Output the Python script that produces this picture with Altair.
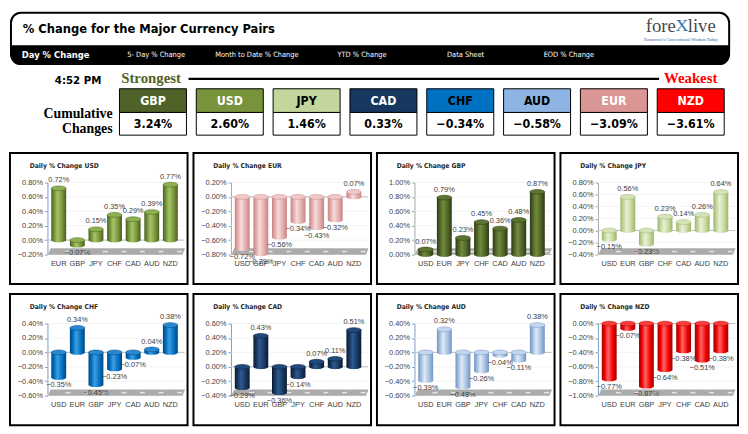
import altair as alt
import pandas as pd

# ------------------------------------------------------------------ data
TITLE = "% Change for the Major Currency Pairs"
TIME_LABEL = "4:52 PM"
menu_items = ["Day % Change", "5- Day % Change", "Month to Date % Change",
              "YTD % Change", "Data Sheet", "EOD % Change"]

strength_codes = ["GBP", "USD", "JPY", "CAD", "CHF", "AUD", "EUR", "NZD"]
strength_values = [3.24, 2.60, 1.46, 0.33, -0.34, -0.58, -3.09, -3.61]

panel_bases = ["USD", "EUR", "GBP", "JPY", "CHF", "CAD", "AUD", "NZD"]

usd_vs = ["EUR", "GBP", "JPY", "CHF", "CAD", "AUD", "NZD"]
usd_chg = [0.72, -0.07, 0.15, 0.35, 0.29, 0.39, 0.77]
eur_vs = ["USD", "GBP", "JPY", "CHF", "CAD", "AUD", "NZD"]
eur_chg = [-0.72, -0.79, -0.56, -0.34, -0.43, -0.32, 0.07]
gbp_vs = ["USD", "EUR", "JPY", "CHF", "CAD", "AUD", "NZD"]
gbp_chg = [0.07, 0.79, 0.23, 0.45, 0.36, 0.48, 0.87]
jpy_vs = ["USD", "EUR", "GBP", "CHF", "CAD", "AUD", "NZD"]
jpy_chg = [-0.15, 0.56, -0.23, 0.23, 0.14, 0.26, 0.64]
chf_vs = ["USD", "EUR", "GBP", "JPY", "CAD", "AUD", "NZD"]
chf_chg = [-0.35, 0.34, -0.45, -0.23, -0.07, 0.04, 0.38]
cad_vs = ["USD", "EUR", "GBP", "JPY", "CHF", "AUD", "NZD"]
cad_chg = [-0.29, 0.43, -0.36, -0.14, 0.07, 0.11, 0.51]
aud_vs = ["USD", "EUR", "GBP", "JPY", "CHF", "CAD", "NZD"]
aud_chg = [-0.39, 0.32, -0.48, -0.26, -0.04, -0.11, 0.38]
nzd_vs = ["USD", "EUR", "GBP", "JPY", "CHF", "CAD", "AUD"]
nzd_chg = [-0.77, -0.07, -0.87, -0.64, -0.38, -0.51, -0.38]

# axis tick range of each panel (from its tick labels)
axis_lo = [-0.20, -0.80, 0.00, -0.40, -0.60, -0.40, -0.60, -1.00]
axis_hi = [0.80, 0.20, 1.00, 0.80, 0.40, 0.60, 0.40, 0.00]
TICK_STEP = 0.20

panel_vs = [usd_vs, eur_vs, gbp_vs, jpy_vs, chf_vs, cad_vs, aud_vs, nzd_vs]
panel_chg = [usd_chg, eur_chg, gbp_chg, jpy_chg, chf_chg, cad_chg, aud_chg, nzd_chg]

# ------------------------------------------------------------------ style
NARROW = "'DejaVu Sans Condensed', sans-serif"
SANS = "'Liberation Sans', Arial, sans-serif"
SERIF = "'Liberation Serif', 'Times New Roman', serif"

hdr_colors = {"GBP": "#4F6228", "USD": "#77933C", "JPY": "#C3D69B", "CAD": "#17375E",
              "CHF": "#0070C0", "AUD": "#8DB4E2", "EUR": "#DA9694", "NZD": "#FF0000"}
hdr_text = {"GBP": "white", "USD": "white", "JPY": "black", "CAD": "white",
            "CHF": "black", "AUD": "black", "EUR": "white", "NZD": "white"}

# dark, mid, light, cap
palettes = {
    "USD": ("#4A5E22", "#76933C", "#A6C466", "#8FB04F"),
    "EUR": ("#C48584", "#E2ABAA", "#F6DCDB", "#EFC9C8"),
    "GBP": ("#2C3A12", "#4F6228", "#728C3C", "#5C7432"),
    "JPY": ("#9DB36A", "#C4D79B", "#E9F0D8", "#D5E3B8"),
    "CHF": ("#00467E", "#0070C0", "#3F9DE2", "#2A88D0"),
    "CAD": ("#0A1A30", "#17375E", "#2E5A8E", "#214A7A"),
    "AUD": ("#6F94C4", "#A3BEDF", "#E0EAF5", "#C5D7EE"),
    "NZD": ("#A30000", "#F00000", "#FF6666", "#FF3B3B"),
}
axis_colors = {"USD": "#7A9CC6", "EUR": "#A6A6A6", "GBP": "#A6A6A6", "JPY": "#A6A6A6",
               "CHF": "#7A9CC6", "CAD": "#7A9CC6", "AUD": "#7A9CC6", "NZD": "#7A9CC6"}

ELLIPSE = "M -1 0 A 1 0.32 0 1 1 1 0 A 1 0.32 0 1 1 -1 0 Z"
FLOOR = "M -1 0.047 L -0.96 -0.047 L 1 -0.047 L 0.96 0.047 Z"
CAP_SIZE = 228

PW, PH = 180, 133
dummy = pd.DataFrame({"k": [0]})


def grad(dark, mid, light):
    return {"gradient": "linear", "x1": 0, "x2": 1, "y1": 0, "y2": 0,
            "stops": [{"offset": 0, "color": dark}, {"offset": 0.2, "color": mid},
                      {"offset": 0.42, "color": light}, {"offset": 0.75, "color": mid},
                      {"offset": 1, "color": dark}]}


def panel(base, vs, chg, lo, hi):
    dark, mid, light, cap = palettes[base]
    g = grad(dark, mid, light)
    df = pd.DataFrame({"cat": vs, "v": chg})
    n = int(round((hi - lo) / TICK_STEP))
    ticks = [round(lo + TICK_STEP * i, 2) for i in range(n + 1)]
    tdf = pd.DataFrame({"t": ticks})
    zdf = pd.DataFrame({"z": [0.0]})

    xs = alt.X("cat:N", sort=vs, axis=None, title=None,
               scale=alt.Scale(domain=vs, range=[40, 172], paddingInner=0.2, paddingOuter=0.1))
    ysc = alt.Scale(domain=[lo, hi], range=[103, 30], nice=False, zero=False)
    ax = alt.Axis(values=ticks, labelExpr="format(datum.value, '.2f') + '%'", offset=-38,
                  domainColor=axis_colors[base], tickColor=axis_colors[base], tickSize=3,
                  labelFontSize=7.5, labelColor="#404040", labelFont=SANS, labelPadding=2,
                  grid=False, title=None)

    def Y(f):
        return alt.Y(f"{f}:Q", scale=ysc, axis=ax, title=None)

    grid = alt.Chart(tdf).mark_rule(color="#EEEEEE", strokeWidth=0.7).encode(
        y=Y("t"), x=alt.value(38), x2=alt.value(177))
    floor = alt.Chart(zdf).mark_point(shape=FLOOR, filled=True, size=139 * 139,
                                      color="#ABABAB", opacity=1, strokeWidth=0).encode(
        x=alt.value(108), y=alt.value(100))
    dashes = alt.Chart(df).mark_tick(color="white", orient="horizontal", size=5,
                                     thickness=1.5, xOffset=9.4).encode(x=xs, y=alt.value(100))
    zero = alt.Chart(zdf).mark_rule(color="#BFBFBF", strokeWidth=1).encode(
        y=Y("z"), x=alt.value(38), x2=alt.value(177))
    base_c = alt.Chart(df).transform_calculate(
        top="max(datum.v, 0)", bot="min(datum.v, 0)",
        lab="format(datum.v, '.2f') + '%'")
    botcap = base_c.mark_point(shape=ELLIPSE, filled=True, size=CAP_SIZE, color=g,
                               opacity=1, strokeWidth=0).encode(x=xs, y=Y("bot"))
    bars = base_c.mark_bar(color=g).encode(x=xs, y=Y("v"), y2=alt.datum(0))
    topcap = base_c.mark_point(shape=ELLIPSE, filled=True, size=CAP_SIZE, fill=cap,
                               stroke=dark, strokeWidth=0.5, opacity=1).encode(x=xs, y=Y("top"))
    lab_pos = base_c.transform_filter("datum.v >= 0").mark_text(
        dy=-4, baseline="bottom", font=SANS, fontSize=7.5, color="#404040").encode(
        x=xs, y=Y("v"), text="lab:N")
    lab_neg = base_c.transform_filter("datum.v < 0").mark_text(
        dy=4, baseline="top", font=SANS, fontSize=7.5, color="#404040").encode(
        x=xs, y=Y("v"), text="lab:N")
    catlab = alt.Chart(df).mark_text(baseline="middle", font=SANS, fontSize=7.5,
                                     color="#404040").encode(x=xs, y=alt.value(113), text="cat:N")
    title = alt.Chart(dummy).mark_text(text=f"Daily % Change {base}", align="left",
                                       baseline="middle", font=NARROW, fontSize=6.8,
                                       fontWeight="bold", color="#262626").encode(
        x=alt.value(20), y=alt.value(13))
    return alt.layer(grid, floor, dashes, zero, botcap, bars, topcap, lab_pos, lab_neg,
                     catlab, title).properties(width=PW, height=PH)


# ------------------------------------------------------------------ header (banner + strength row)
TW, TH = 730, 134
BH = 53
menu_x = [12, 119, 208, 332, 443, 541]
frame_bg = alt.Chart(dummy).mark_rect(fill="white", cornerRadius=10).encode(
    x=alt.value(1), x2=alt.value(TW - 1), y=alt.value(1), y2=alt.value(BH))
bar_bg = alt.Chart(dummy).mark_rect(color="black", cornerRadiusBottomLeft=9,
                                    cornerRadiusBottomRight=9).encode(
    x=alt.value(1), x2=alt.value(TW - 1), y=alt.value(34), y2=alt.value(BH))
frame = alt.Chart(dummy).mark_rect(fill="transparent", stroke="black", strokeWidth=2,
                                   cornerRadius=10).encode(
    x=alt.value(1), x2=alt.value(TW - 1), y=alt.value(1), y2=alt.value(BH))
title_t = alt.Chart(dummy).mark_text(text=TITLE, align="left", baseline="middle", font=NARROW,
                                     fontSize=13, fontWeight="bold", color="black").encode(
    x=alt.value(13), y=alt.value(17))
menu_layers = []
for i, (lbl, mx) in enumerate(zip(menu_items, menu_x)):
    menu_layers.append(alt.Chart(dummy).mark_text(
        text=lbl, align="left", baseline="middle", font=NARROW,
        fontSize=9.5 if i == 0 else 7.5, fontWeight="bold" if i == 0 else "normal",
        color="white").encode(x=alt.value(mx), y=alt.value(43.5)))
logo1 = alt.Chart(dummy).mark_text(text="fore", align="right", baseline="middle", font=SERIF,
                                   fontSize=19, color="#4A4A4A").encode(x=alt.value(675), y=alt.value(14))
logo2 = alt.Chart(dummy).mark_text(text="X", align="center", baseline="middle", font=SERIF,
                                   fontSize=18, color="#2E75B6").encode(x=alt.value(681), y=alt.value(14))
logo3 = alt.Chart(dummy).mark_text(text="live", align="left", baseline="middle", font=SERIF,
                                   fontSize=19, color="#4A4A4A").encode(x=alt.value(687), y=alt.value(14))
logo4 = alt.Chart(dummy).mark_text(text="Tomorrow's Conventional Wisdom Today", align="center",
                                   baseline="middle", font=SERIF, fontSize=4.5,
                                   color="#1F5FA8").encode(x=alt.value(680), y=alt.value(28.5))

sdf = pd.DataFrame({"code": strength_codes, "val": strength_values})
sx = alt.X("code:N", sort=strength_codes, axis=None, title=None,
           scale=alt.Scale(domain=strength_codes, range=[111, 724],
                           paddingInner=0.128, paddingOuter=0))
BOX_T, BOX_M, BOX_B = 78, 102, 125
hdr_rect = alt.Chart(sdf).mark_rect(stroke="black", strokeWidth=1).encode(
    x=sx, y=alt.value(BOX_T), y2=alt.value(BOX_M),
    color=alt.Color("code:N", legend=None,
                    scale=alt.Scale(domain=strength_codes,
                                    range=[hdr_colors[c] for c in strength_codes])))
val_rect = alt.Chart(sdf).mark_rect(fill="white", stroke="black", strokeWidth=1).encode(
    x=sx, y=alt.value(BOX_M), y2=alt.value(BOX_B))
hdr_txt = alt.Chart(sdf).mark_text(font=NARROW, fontSize=12.5, fontWeight="bold",
                                   baseline="middle").encode(
    x=sx, y=alt.value(90), text="code:N",
    color=alt.Color("code:N", legend=None,
                    scale=alt.Scale(domain=strength_codes,
                                    range=[hdr_text[c] for c in strength_codes])))
val_txt = alt.Chart(sdf).transform_calculate(lab="format(datum.val, '.2f') + '%'").mark_text(
    font=NARROW, fontSize=12.5, fontWeight="bold", baseline="middle", color="black").encode(
    x=sx, y=alt.value(114), text="lab:N")
line = alt.Chart(dummy).mark_rule(color="black", strokeWidth=2.2).encode(
    x=alt.value(181), x2=alt.value(658), y=alt.value(68))
strongest = alt.Chart(dummy).mark_text(text="Strongest", font=SERIF, fontSize=15,
                                       fontWeight="bold", color="#4F6228",
                                       baseline="middle").encode(x=alt.value(143), y=alt.value(67))
weakest = alt.Chart(dummy).mark_text(text="Weakest", font=SERIF, fontSize=15,
                                     fontWeight="bold", color="#FF0000",
                                     baseline="middle").encode(x=alt.value(690), y=alt.value(67))
time_t = alt.Chart(dummy).mark_text(text=TIME_LABEL, font=NARROW, fontSize=11.5,
                                    fontWeight="bold", color="black",
                                    baseline="middle").encode(x=alt.value(69), y=alt.value(70))
cum1 = alt.Chart(dummy).mark_text(text="Cumulative", font=SERIF, fontSize=14, fontWeight="bold",
                                  color="black", align="right", baseline="middle").encode(
    x=alt.value(104), y=alt.value(104))
cum2 = alt.Chart(dummy).mark_text(text="Changes", font=SERIF, fontSize=14, fontWeight="bold",
                                  color="black", align="right", baseline="middle").encode(
    x=alt.value(104), y=alt.value(119))

header = alt.layer(frame_bg, bar_bg, frame, title_t, *menu_layers, logo1, logo2, logo3, logo4,
                   line, strongest, weakest, time_t, cum1, cum2, hdr_rect, val_rect,
                   hdr_txt, val_txt).resolve_scale(color="independent").properties(
    width=TW, height=TH, view=alt.ViewBackground(stroke="transparent", strokeWidth=0))

# ------------------------------------------------------------------ panels
panels = [panel(b, v, c, lo, hi) for b, v, c, lo, hi in
          zip(panel_bases, panel_vs, panel_chg, axis_lo, axis_hi)]
row1 = alt.hconcat(*panels[:4], spacing=4)
row2 = alt.hconcat(*panels[4:], spacing=4)

chart = alt.vconcat(header, row1, row2, spacing=8).properties(
    padding={"left": 1, "top": 1, "right": 1, "bottom": 1}, background="white"
).configure_view(stroke="black", strokeWidth=2, fill="white")

chart.save("out.html", embed_options={"renderer": "svg", "actions": False})
